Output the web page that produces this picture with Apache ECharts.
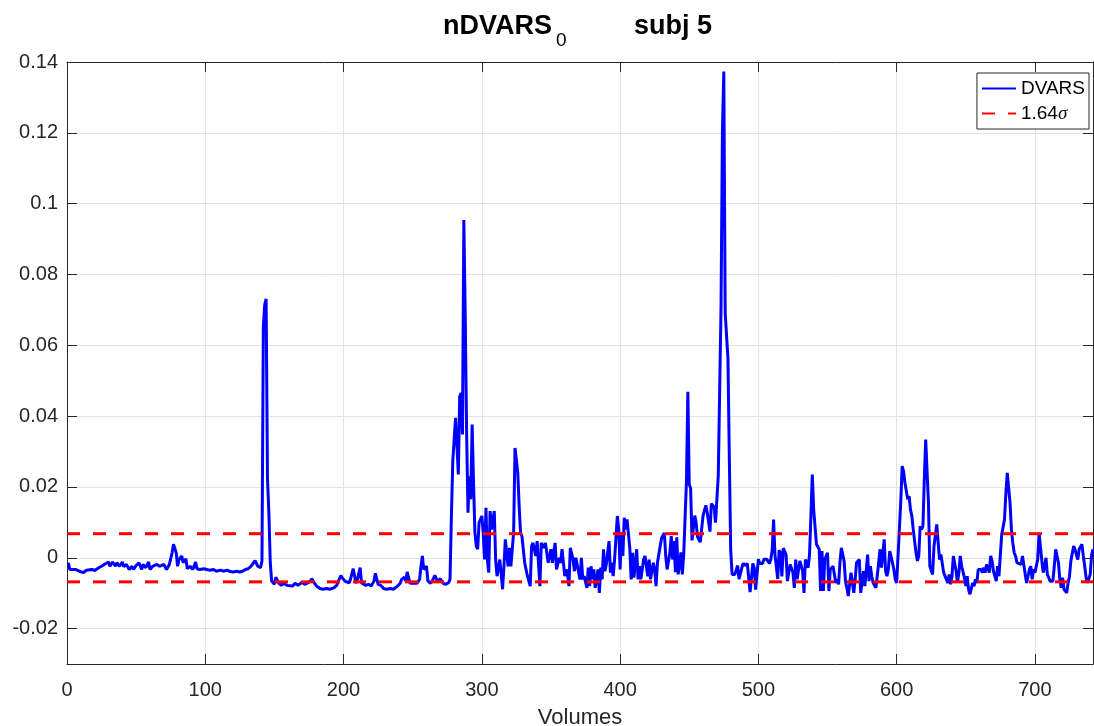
<!DOCTYPE html>
<html>
<head>
<meta charset="utf-8">
<script src="https://cdn.jsdelivr.net/npm/echarts@6/dist/echarts.min.js"></script>
<style>
  html, body { margin: 0; padding: 0; background: #fff; }
  #chart { width: 1094px; height: 726px; }
</style>
</head>
<body>
<div id="chart"></div>
<script>
// Volume index of each DVARS sample
const volumes = [
  1,2,6,9,12,14,18,20,23,25,
  27,30,31,33,35,36,38,40,41,43,
  45,47,48,50,52,54,55,57,59,60,
  62,65,67,70,72,74,76,77,79,80,
  81,83,84,86,87,89,91,93,94,96,
  99,101,103,106,108,111,113,116,118,120,
  123,125,127,129,131,133,134,136,138,140,
  141,
  142,143,144,145,146,147,148,150,151,153,
  155,157,159,160,163,165,167,170,172,174,
  176,177,179,181,183,185,188,190,193,195,
  198,199,201,204,205,207,209,210,212,213,
  216,218,220,222,223,225,227,229,231,234,
  236,239,241,242,244,245,246,248,250,253,
  255,256,257,258,260,261,263,265,266,268,
  270,272,274,276,277,
  278,279,280,281,282,283,284,285,286,287,
  288,289,290,291,292,293,294,295,296,297,
  298,300,301,302,303,304,305,306,307,309,
  310,311,313,315,316,317,319,320,321,323,
  324,326,327,328,329,330,331,333,335,336,
  337,339,340,342,343,345,346,348,350,351,
  353,354,356,
  357,358,360,361,362,363,364,366,367,368,
  369,371,372,373,374,376,377,378,379,380,
  381,382,384,385,386,387,388,389,390,392,
  393,394,395,396,398,399,400,401,402,403,
  404,405,407,408,409,410,412,413,414,415,
  417,418,419,420,421,422,424,425,426,427,
  429,430,432,433,434,436,437,438,439,440,
  441,442,444,445,446,
  448,449,450,451,452,454,455,456,458,460,
  462,463,465,466,468,469,471,472,473,474,
  475,476,477,478,479,480,481,483,485,486,
  488,489,491,492,494,496,497,498,500,501,
  503,504,506,508,509,510,511,512,514,515,
  516,517,518,520,521,522,
  523,525,526,527,528,530,531,532,533,534,
  536,537,538,539,540,542,543,544,545,546,
  547,548,550,551,552,553,554,556,557,558,
  559,560,562,563,564,565,567,568,569,570,
  571,573,574,575,576,577,579,580,581,582,
  583,585,586,587,588,589,591,592,593,594,
  595,597,598,599,600,601,603,604,605,606,
  608,609,610,611,612,614,615,616,617,618,
  619,620,621,622,623,624,626,627,628,629,
  631,632,633,634,635,637,638,639,640,641,
  643,644,645,646,647,649,650,651,652,653,
  655,656,657,658,659,661,662,663,664,665,
  667,668,669,670,672,673,674,675,676,678,
  679,680,681,682,683,684,685,686,687,688,
  690,691,692,693,694,696,697,698,699,700,
  702,703,705,706,707,708,709,711,712,713,
  714,715,717,718,719,720,721,723,724,725,
  726,728,729,730,731,732,734,735,736,737,
  738,740,741,742
];

// nDVARS value at each of those volumes
const dvars = [
  -0.0014,-0.0033,-0.0033,-0.0038,-0.0042,-0.0035,-0.0033,-0.0036,-0.0028,-0.0024,
  -0.0019,-0.0012,-0.0024,-0.0012,-0.0024,-0.0014,-0.0024,-0.0012,-0.0025,-0.0019,
  -0.0033,-0.0024,-0.0033,-0.0022,-0.0014,-0.0033,-0.0019,-0.0028,-0.0012,-0.0033,
  -0.0024,-0.0019,-0.0024,-0.0019,-0.0033,-0.0019,0.0014,0.0038,0.0014,-0.0024,
  -0.0005,0.0005,-0.0014,-0.0003,-0.0031,-0.0024,-0.0033,-0.0012,-0.0031,-0.0033,
  -0.0031,-0.0033,-0.0035,-0.0033,-0.0038,-0.0035,-0.0038,-0.0035,-0.0039,-0.004,
  -0.0038,-0.004,-0.0038,-0.0033,-0.0031,-0.0024,-0.0019,-0.0008,-0.0024,-0.0028,
  -0.0009,
  0.0653,0.0715,0.0731,0.0221,0.0127,-0.0014,-0.0066,-0.0075,-0.0055,-0.0071,
  -0.0078,-0.0072,-0.0078,-0.0075,-0.008,-0.0072,-0.0078,-0.0069,-0.0075,-0.0071,
  -0.0066,-0.0059,-0.0072,-0.0082,-0.0087,-0.0089,-0.0087,-0.0089,-0.0085,-0.0078,
  -0.005,-0.0056,-0.0066,-0.0071,-0.0061,-0.0031,-0.0072,-0.0061,-0.0028,-0.0071,
  -0.0078,-0.0075,-0.008,-0.0066,-0.0044,-0.0075,-0.0078,-0.0087,-0.0089,-0.0087,
  -0.0089,-0.008,-0.0072,-0.0061,-0.0055,-0.0066,-0.004,-0.0072,-0.0071,-0.0072,
  -0.0061,-0.0024,0.0005,-0.0033,-0.0024,-0.0066,-0.0072,-0.0059,-0.005,-0.0066,
  -0.0059,-0.0072,-0.0075,-0.007,-0.0061,
  0.0118,0.0273,0.0334,0.0395,0.04,0.0235,0.0456,0.0465,0.0348,0.0954,
  0.0682,0.0353,0.0127,0.023,0.0165,0.0376,0.0212,0.0071,0.0033,0.0024,
  0.0099,0.0118,0.0071,-0.0005,0.0141,-0.0005,-0.0042,0.0132,0.008,0.0132,
  -0.0005,-0.0052,-0.0005,-0.0089,-0.0024,0.0052,-0.0024,0.0028,-0.0024,0.0071,
  0.031,0.024,0.0146,0.0071,0.0061,0.0056,-0.0014,-0.0052,-0.008,0.0033,
  0.0042,0.0005,0.0047,-0.008,0.0042,0.0028,0.0042,-0.0014,0.0024,-0.0014,
  0.0042,-0.0033,0,
  -0.0014,0.0024,-0.0052,-0.0033,-0.0047,-0.008,0.0028,-0.0005,-0.0038,0,
  -0.0005,-0.0061,0,-0.0061,-0.0052,-0.0085,-0.0028,-0.008,-0.0024,-0.0061,
  -0.0033,-0.0085,-0.0033,-0.0099,-0.0028,-0.0061,0.0024,-0.0038,-0.0019,0.0047,
  -0.0042,-0.0014,-0.0052,-0.0005,0.0118,0.008,-0.0033,0.0066,0.0005,0.0113,
  0.008,0.0108,0.0028,-0.0061,0.0014,-0.0056,0.0024,-0.0061,-0.0024,-0.0061,
  -0.0005,0.0005,-0.0024,-0.0052,-0.0005,-0.0061,-0.0014,-0.0033,-0.008,-0.0014,
  0.0033,0.0056,0.007,0.0005,-0.0033,0.0014,0.0061,-0.0005,0.0047,-0.0041,
  0.0058,-0.0047,0.0015,-0.0047,0.0009,
  0.0217,0.0469,0.0207,0.0197,0.0049,0.0119,0.0099,0.0059,0.0044,0.0119,
  0.0148,0.0128,0.0074,0.0153,0.0143,0.0099,0.0232,0.0237,0.071,0.1205,
  0.1373,0.0691,0.0691,0.0563,0.028,0.002,-0.0047,-0.0047,-0.0022,-0.006,
  -0.0029,-0.0016,-0.0022,-0.0016,-0.0097,-0.0016,-0.0029,-0.009,-0.0004,-0.0016,
  -0.0016,-0.0004,-0.0004,-0.0016,-0.0004,0.0021,0.0108,0.0009,-0.006,0.0021,
  0.0015,-0.0053,0.0027,0.0009,-0.0066,-0.0041,
  -0.0019,-0.0042,-0.0085,-0.0005,-0.0061,-0.0009,-0.0005,-0.0038,-0.0099,-0.0005,
  -0.0028,0.0009,0.0118,0.0235,0.0136,0.0038,0.0033,0.0024,-0.0094,0.0019,
  -0.0094,-0.0005,0.0014,-0.0094,-0.0033,-0.0028,-0.0024,-0.0071,-0.0061,-0.0075,
  -0.0014,0.0028,-0.0009,-0.0066,-0.0085,-0.0108,-0.0042,-0.0038,-0.0099,-0.0061,
  -0.0014,-0.0005,-0.0099,-0.0071,-0.0038,-0.008,0.0009,-0.0066,-0.0024,-0.0052,
  -0.0071,-0.0085,-0.0089,-0.0014,0.0024,-0.0028,0.0052,-0.0038,-0.0052,-0.0033,
  0.0019,-0.0014,-0.0033,-0.0061,-0.0071,0.0005,0.016,0.0259,0.0244,0.0212,
  0.0165,0.0174,0.0136,0.0118,0.008,0.0014,-0.0009,0.0005,0.0089,0.008,
  0.0089,0.0221,0.0334,0.0338,0.0155,-0.0024,-0.0047,0.0033,0.0038,0.0094,
  -0.0005,0.0009,0.0014,-0.0042,-0.0047,-0.0071,-0.0047,-0.0075,-0.0052,0.0005,
  -0.0038,-0.0071,-0.0042,0.0005,-0.0024,-0.0056,-0.008,-0.0052,-0.0089,-0.0103,
  -0.0071,-0.008,-0.0061,-0.0071,-0.0033,-0.0033,-0.0042,-0.0028,-0.0042,-0.0019,
  -0.0042,0.0005,-0.0009,-0.0038,-0.0066,-0.0024,-0.0052,0.0009,0.0066,0.0108,
  0.0183,0.024,0.0235,0.0155,0.008,0.0042,0.0014,0.0005,-0.0014,-0.0014,
  -0.0019,0.0005,0,-0.0047,-0.0071,-0.0033,-0.0024,-0.0061,-0.0033,-0.0042,
  -0.0005,0.007,-0.0009,-0.0042,-0.0024,0,-0.0047,-0.0066,-0.0071,-0.0066,
  -0.0024,0.0024,-0.0014,-0.0061,-0.0085,-0.0056,-0.0089,-0.0099,-0.0071,-0.0052,
  -0.0009,0.0033,0.0024,0.0009,-0.0005,0.0024,0.0038,0.0005,-0.0024,-0.0056,
  -0.0071,-0.0047,0.0009,0.0024
];

// 1.64 sigma threshold band (drawn at +/- this level)
const threshold = 0.0068;

const xRange = [0, 742];
const yRange = [-0.03, 0.14];
const xTicks = [0, 100, 200, 300, 400, 500, 600, 700];
const yTicks = [-0.02, 0, 0.02, 0.04, 0.06, 0.08, 0.1, 0.12, 0.14];

const FONT = '"Liberation Sans", Arial, Helvetica, sans-serif';
const AXIS_COLOR = '#262626';
const GRID_COLOR = '#e3e3e3';

const dvarsPoints = volumes.map((v, i) => [v, dvars[i]]);
const upperBand = [[xRange[0], threshold], [xRange[1], threshold]];
const lowerBand = [[xRange[0], -threshold], [xRange[1], -threshold]];

function fmtTick(v) {
  return String(Number(v.toFixed(2)));
}

function xAxisDef(position, main) {
  return {
    type: 'value',
    position: position,
    min: xRange[0],
    max: xRange[1],
    axisLine: { show: true, onZero: false, lineStyle: { color: AXIS_COLOR, width: 1 } },
    axisTick: { show: true, inside: true, length: 10, customValues: xTicks,
                lineStyle: { color: AXIS_COLOR, width: 1 } },
    axisLabel: { show: main, customValues: xTicks, fontSize: 20, margin: 16,
                 color: AXIS_COLOR, fontFamily: FONT, formatter: fmtTick },
    splitLine: { show: main, lineStyle: { color: GRID_COLOR, width: 1 } },
    name: main ? 'Volumes' : '',
    nameLocation: 'middle',
    nameGap: 43,
    nameTextStyle: { fontSize: 22, color: AXIS_COLOR, fontFamily: FONT }
  };
}

function yAxisDef(position, main) {
  return {
    type: 'value',
    position: position,
    min: yRange[0],
    max: yRange[1],
    axisLine: { show: true, onZero: false, lineStyle: { color: AXIS_COLOR, width: 1 } },
    axisTick: { show: true, inside: true, length: 10, customValues: yTicks,
                lineStyle: { color: AXIS_COLOR, width: 1 } },
    axisLabel: { show: main, customValues: yTicks, fontSize: 20, margin: 9,
                 color: AXIS_COLOR, fontFamily: FONT, formatter: fmtTick },
    splitLine: { show: main, lineStyle: { color: GRID_COLOR, width: 1 } }
  };
}

const chart = echarts.init(document.getElementById('chart'), null, { renderer: 'canvas' });

chart.setOption({
  animation: false,
  backgroundColor: '#ffffff',
  grid: { left: 67, right: 1, top: 62, bottom: 62, containLabel: false, outerBoundsMode: 'none' },
  xAxis: [xAxisDef('bottom', true), xAxisDef('top', false)],
  yAxis: [yAxisDef('left', true), yAxisDef('right', false)],
  legend: {
    orient: 'vertical',
    right: 5,
    top: 73,
    align: 'left',
    backgroundColor: '#ffffff',
    borderColor: AXIS_COLOR,
    borderWidth: 1,
    borderRadius: 0,
    padding: [6, 4, 6, 4],
    itemGap: 6,
    itemWidth: 34,
    itemHeight: 18,
    itemStyle: { opacity: 0 },
    data: ['DVARS', '1.64σ'],
    formatter: function (name) {
      return name === '1.64σ' ? '1.64{i|σ}' : name;
    },
    textStyle: {
      fontSize: 19,
      color: '#000',
      fontFamily: FONT,
      rich: {
        i: { fontSize: 19, fontStyle: 'italic', fontFamily: '"Liberation Serif", "DejaVu Serif", serif', color: '#000' }
      }
    }
  },
  graphic: [
    { type: 'text', silent: true,
      style: { x: 443, y: 27, text: 'nDVARS', align: 'left', verticalAlign: 'middle',
               font: 'bold 27px "Liberation Sans", Arial, sans-serif', fill: '#000' } },
    { type: 'text', silent: true,
      style: { x: 556, y: 41, text: '0', align: 'left', verticalAlign: 'middle',
               font: '19px "Liberation Sans", Arial, sans-serif', fill: '#000' } },
    { type: 'text', silent: true,
      style: { x: 634, y: 27, text: 'subj 5', align: 'left', verticalAlign: 'middle',
               font: 'bold 27px "Liberation Sans", Arial, sans-serif', fill: '#000' } }
  ],
  series: [
    {
      name: 'DVARS',
      type: 'line',
      xAxisIndex: 0,
      yAxisIndex: 0,
      data: dvarsPoints,
      symbol: 'none',
      color: '#0000ff',
      lineStyle: { color: '#0000ff', width: 3 },
      z: 2
    },
    {
      name: '1.64σ',
      type: 'line',
      xAxisIndex: 0,
      yAxisIndex: 0,
      data: upperBand,
      symbol: 'none',
      color: '#ff0000',
      lineStyle: { color: '#ff0000', width: 3, type: [13, 13] },
      z: 3
    },
    {
      name: '1.64σ',
      type: 'line',
      xAxisIndex: 0,
      yAxisIndex: 0,
      data: lowerBand,
      symbol: 'none',
      color: '#ff0000',
      lineStyle: { color: '#ff0000', width: 3, type: [13, 13] },
      z: 3
    }
  ]
});
</script>
</body>
</html>
